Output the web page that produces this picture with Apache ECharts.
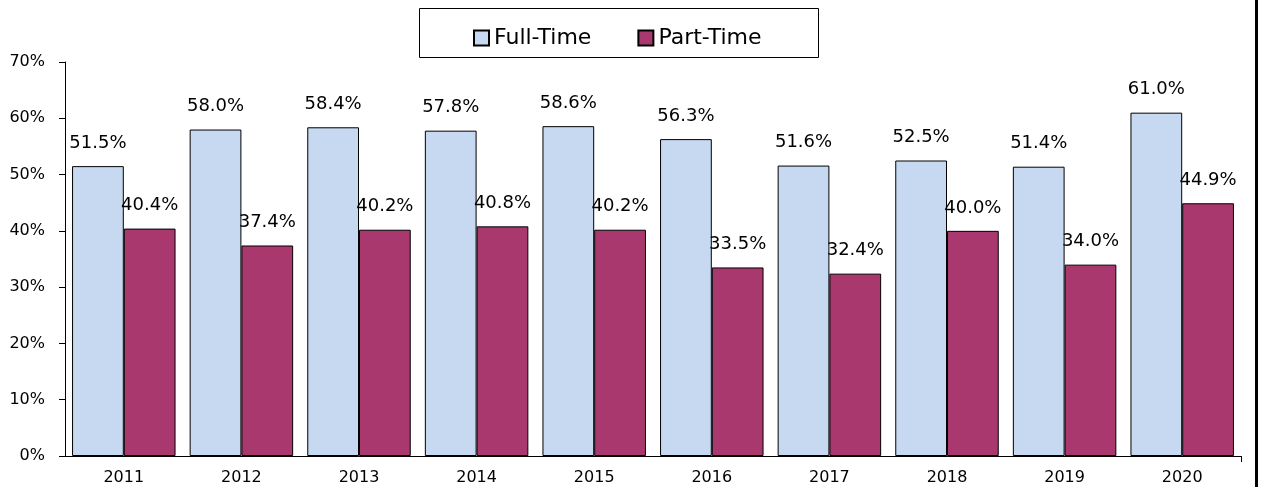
<!DOCTYPE html>
<html>
<head>
<meta charset="utf-8">
<script src="https://cdn.jsdelivr.net/npm/echarts@6/dist/echarts.min.js"></script>
<style>
  html,body{margin:0;padding:0;background:#fff;}
  #chart{width:1262px;height:487px;}
</style>
</head>
<body>
<div id="chart"></div>
<script>
  const years = ['2011','2012','2013','2014','2015','2016','2017','2018','2019','2020'];
  const fullTime = [51.5, 58.0, 58.4, 57.8, 58.6, 56.3, 51.6, 52.5, 51.4, 61.0];
  const partTime = [40.4, 37.4, 40.2, 40.8, 40.2, 33.5, 32.4, 40.0, 34.0, 44.9];

  const font = 'DejaVu Sans';
  let myChart = echarts.init(document.getElementById('chart'));

  function pctLabel(p){
    return p.value.toFixed(1) + '%';
  }

  let option = {
    animation: false,
    textStyle: { fontFamily: font },
    grid: { left: 65, right: 21, top: 62, bottom: 31 },
    legend: {
      left: 468,
      top: 22,
      icon: 'rect',
      itemWidth: 15,
      itemHeight: 15,
      itemGap: 46,
      textStyle: { fontSize: 22, color: '#000', fontFamily: font },
      data: ['Full-Time', 'Part-Time']
    },
    xAxis: {
      type: 'category',
      data: years,
      axisLine: { lineStyle: { color: '#000', width: 1 } },
      axisTick: { alignWithLabel: true, length: 6, lineStyle: { color: '#000' } },
      axisLabel: { color: '#000', fontSize: 16, margin: 14, fontFamily: font }
    },
    yAxis: {
      type: 'value',
      min: 0,
      max: 70,
      interval: 10,
      axisLine: { show: true, lineStyle: { color: '#000', width: 1 } },
      axisTick: { show: true, length: 6, lineStyle: { color: '#000' } },
      splitLine: { show: false },
      axisLabel: { color: '#000', fontSize: 16, margin: 20, formatter: '{value}%', fontFamily: font }
    },
    series: [
      {
        name: 'Full-Time',
        type: 'bar',
        data: fullTime,
        barGap: '0%',
        barCategoryGap: '12%',
        itemStyle: { color: '#c6d9f0', borderColor: '#000', borderWidth: 1 },
        label: { show: true, position: 'top', distance: 14, color: '#000', fontSize: 18, fontFamily: font, formatter: pctLabel }
      },
      {
        name: 'Part-Time',
        type: 'bar',
        data: partTime,
        barGap: '0%',
        barCategoryGap: '12%',
        itemStyle: { color: '#a9386e', borderColor: '#000', borderWidth: 1 },
        label: { show: true, position: 'top', distance: 14, color: '#000', fontSize: 18, fontFamily: font, formatter: pctLabel }
      }
    ],
    graphic: [
      {
        type: 'rect',
        shape: { x: 419.5, y: 8.5, width: 399, height: 49 },
        style: { fill: 'none', stroke: '#000', lineWidth: 1 },
        z: 10
      },
      {
        // end tick of the category axis
        type: 'line',
        shape: { x1: 1241.5, y1: 456, x2: 1241.5, y2: 462 },
        style: { stroke: '#000', lineWidth: 1 },
        z: 10
      },
      {
        type: 'line',
        shape: { x1: 1256.5, y1: 0, x2: 1256.5, y2: 487 },
        style: { stroke: '#000', lineWidth: 3 },
        z: 10
      }
    ]
  };

  myChart.setOption(option);
  window.addEventListener('resize', function(){
    myChart.resize();
  });
</script>
</body>
</html>
